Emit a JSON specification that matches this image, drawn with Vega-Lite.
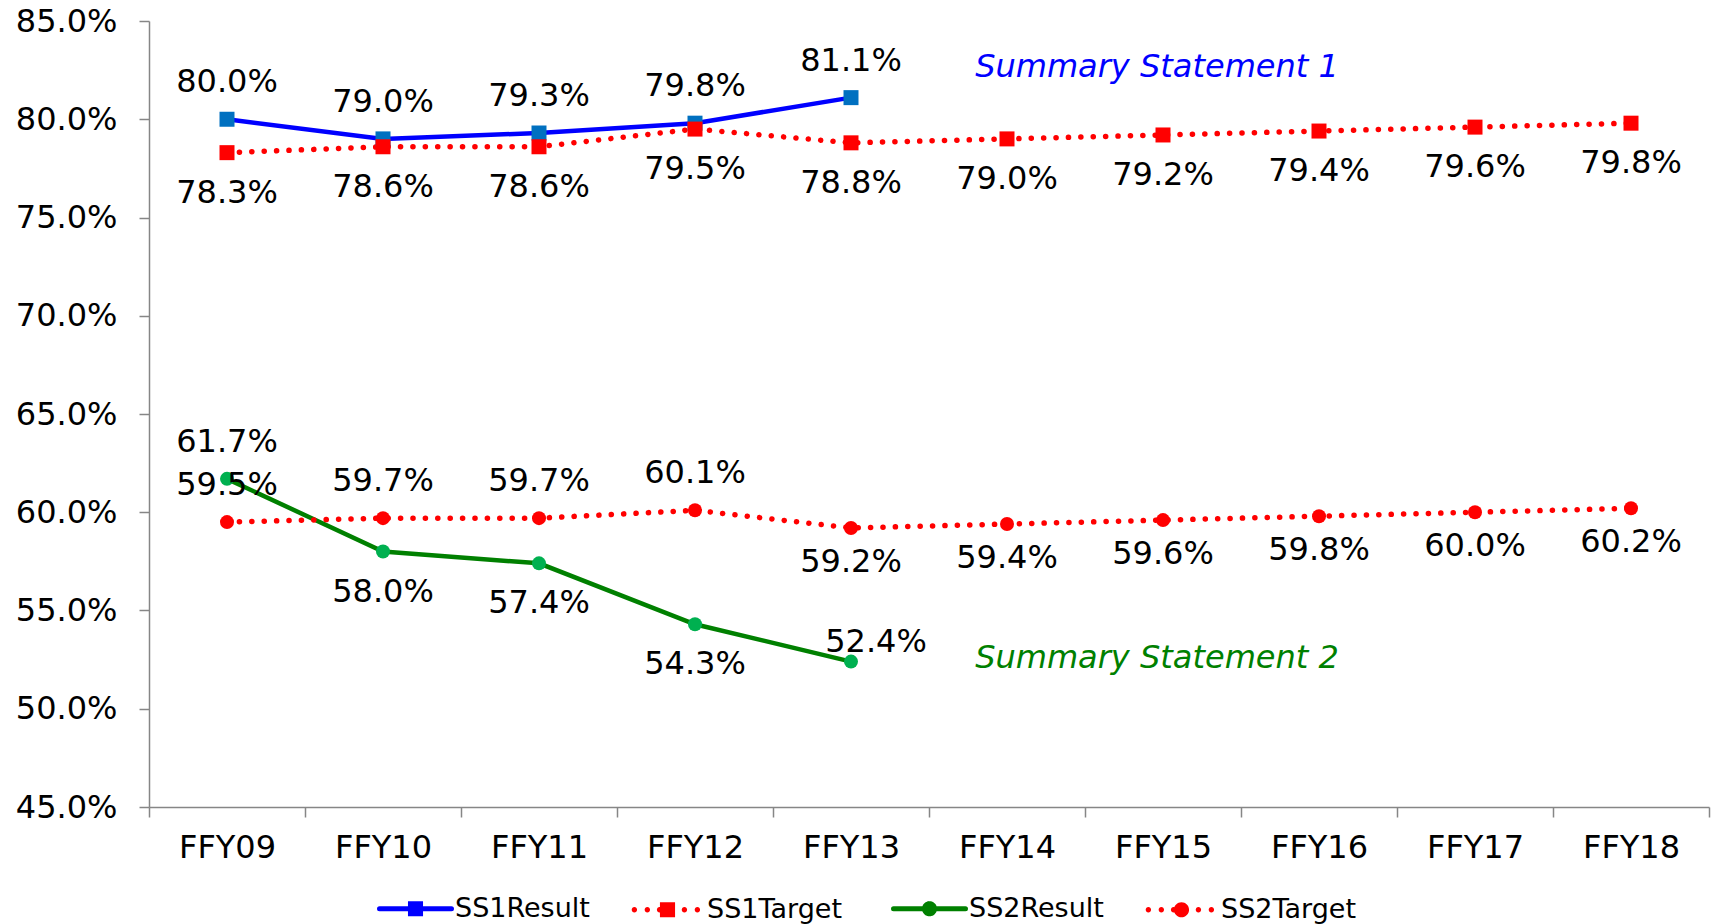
{
  "$schema": "https://vega.github.io/schema/vega-lite/v6.json",
  "width": 1560,
  "height": 786,
  "autosize": {"type": "none"},
  "padding": {"left": 149, "top": 21, "right": 5, "bottom": 117},
  "background": "white",
  "config": {"view": {"stroke": null}},
  "datasets": {
    "series": [
      {"year": "FFY09", "series": "SS1Result", "value": 0.800},
      {"year": "FFY10", "series": "SS1Result", "value": 0.790},
      {"year": "FFY11", "series": "SS1Result", "value": 0.793},
      {"year": "FFY12", "series": "SS1Result", "value": 0.798},
      {"year": "FFY13", "series": "SS1Result", "value": 0.811},
      {"year": "FFY09", "series": "SS2Result", "value": 0.617},
      {"year": "FFY10", "series": "SS2Result", "value": 0.580},
      {"year": "FFY11", "series": "SS2Result", "value": 0.574},
      {"year": "FFY12", "series": "SS2Result", "value": 0.543},
      {"year": "FFY13", "series": "SS2Result", "value": 0.524},
      {"year": "FFY09", "series": "SS1Target", "value": 0.783},
      {"year": "FFY10", "series": "SS1Target", "value": 0.786},
      {"year": "FFY11", "series": "SS1Target", "value": 0.786},
      {"year": "FFY12", "series": "SS1Target", "value": 0.795},
      {"year": "FFY13", "series": "SS1Target", "value": 0.788},
      {"year": "FFY14", "series": "SS1Target", "value": 0.790},
      {"year": "FFY15", "series": "SS1Target", "value": 0.792},
      {"year": "FFY16", "series": "SS1Target", "value": 0.794},
      {"year": "FFY17", "series": "SS1Target", "value": 0.796},
      {"year": "FFY18", "series": "SS1Target", "value": 0.798},
      {"year": "FFY09", "series": "SS2Target", "value": 0.595},
      {"year": "FFY10", "series": "SS2Target", "value": 0.597},
      {"year": "FFY11", "series": "SS2Target", "value": 0.597},
      {"year": "FFY12", "series": "SS2Target", "value": 0.601},
      {"year": "FFY13", "series": "SS2Target", "value": 0.592},
      {"year": "FFY14", "series": "SS2Target", "value": 0.594},
      {"year": "FFY15", "series": "SS2Target", "value": 0.596},
      {"year": "FFY16", "series": "SS2Target", "value": 0.598},
      {"year": "FFY17", "series": "SS2Target", "value": 0.600},
      {"year": "FFY18", "series": "SS2Target", "value": 0.602}
    ],
    "notes": [
      {"year": "FFY15", "value": 0.8267, "label": "Summary Statement 1", "group": "SS1"},
      {"year": "FFY15", "value": 0.5258, "label": "Summary Statement 2", "group": "SS2"}
    ]
  },
  "data": {"name": "series"},
  "encoding": {
    "x": {
      "field": "year",
      "type": "nominal",
      "bandPosition": 0.5,
      "scale": {
        "type": "band",
        "paddingInner": 0,
        "paddingOuter": 0,
        "domain": ["FFY09", "FFY10", "FFY11", "FFY12", "FFY13", "FFY14", "FFY15", "FFY16", "FFY17", "FFY18"]
      },
      "axis": {
        "title": null,
        "labelAngle": 0,
        "tickBand": "extent",
        "tickSize": 10,
        "labelPadding": 15,
        "labelFont": "DejaVu Sans",
        "labelFontSize": 32,
        "labelColor": "black",
        "domainColor": "#868686",
        "tickColor": "#868686",
        "domainWidth": 1.5,
        "tickWidth": 1.5,
        "grid": false
      }
    },
    "y": {
      "field": "value",
      "type": "quantitative",
      "scale": {"domain": [0.45, 0.85], "nice": false, "zero": false},
      "axis": {
        "title": null,
        "values": [0.45, 0.5, 0.55, 0.6, 0.65, 0.7, 0.75, 0.8, 0.85],
        "format": ".1%",
        "tickSize": 10,
        "labelPadding": 22,
        "labelFont": "DejaVu Sans",
        "labelFontSize": 32,
        "labelColor": "black",
        "domainColor": "#868686",
        "tickColor": "#868686",
        "domainWidth": 1.5,
        "tickWidth": 1.5,
        "grid": false
      }
    }
  },
  "layer": [
    {
      "transform": [{"filter": "datum.series === 'SS1Result' || datum.series === 'SS2Result'"}],
      "mark": {"type": "line", "strokeWidth": 4.5, "strokeCap": "round"},
      "encoding": {
        "stroke": {
          "field": "series",
          "type": "nominal",
          "scale": {
            "domain": ["SS1Result", "SS1Target", "SS2Result", "SS2Target"],
            "range": ["#0000FF", "#FF0000", "#008000", "#FF0000"]
          },
          "legend": {
            "orient": "none",
            "legendX": 253,
            "legendY": 874,
            "direction": "horizontal",
            "columns": 4,
            "title": null,
            "padding": 0,
            "symbolSize": 5184,
            "symbolType": "M-1,0H1",
            "symbolStrokeWidth": 5,
            "symbolOffset": 0,
            "labelOffset": 26,
            "columnPadding": 41,
            "labelFont": "DejaVu Sans",
            "labelFontSize": 27,
            "labelColor": "black",
            "labelLimit": 400,
            "encode": {
              "symbols": {
                "update": {
                  "shape": {"signal": "datum.value === 'SS1Result' ? 'M-1,0H1M-0.14,-0.14H0.14V0.14H-0.14Z' : datum.value === 'SS2Result' ? 'M-1,0H1M0.14,0A0.14,0.14,0,1,1,-0.14,0A0.14,0.14,0,1,1,0.14,0Z' : datum.value === 'SS1Target' ? 'M-0.845,0A0.075,0.075,0,1,1,-0.995,0A0.075,0.075,0,1,1,-0.845,0ZM-0.485,0A0.075,0.075,0,1,1,-0.635,0A0.075,0.075,0,1,1,-0.485,0ZM-0.145,0A0.075,0.075,0,1,1,-0.295,0A0.075,0.075,0,1,1,-0.145,0ZM0.545,0A0.075,0.075,0,1,1,0.395,0A0.075,0.075,0,1,1,0.545,0ZM0.905,0A0.075,0.075,0,1,1,0.755,0A0.075,0.075,0,1,1,0.905,0ZM-0.21,-0.21H0.21V0.21H-0.21Z' : 'M-0.845,0A0.075,0.075,0,1,1,-0.995,0A0.075,0.075,0,1,1,-0.845,0ZM-0.485,0A0.075,0.075,0,1,1,-0.635,0A0.075,0.075,0,1,1,-0.485,0ZM-0.145,0A0.075,0.075,0,1,1,-0.295,0A0.075,0.075,0,1,1,-0.145,0ZM0.545,0A0.075,0.075,0,1,1,0.395,0A0.075,0.075,0,1,1,0.545,0ZM0.905,0A0.075,0.075,0,1,1,0.755,0A0.075,0.075,0,1,1,0.905,0ZM0.21,0A0.21,0.21,0,1,1,-0.21,0A0.21,0.21,0,1,1,0.21,0Z'"},
                  "fill": {"signal": "datum.value === 'SS1Result' ? '#0070C0' : datum.value === 'SS2Result' ? '#00B050' : '#FF0000'"},
                  "stroke": {"signal": "datum.value === 'SS1Result' ? '#0000FF' : datum.value === 'SS2Result' ? '#008000' : '#FF0000'"},
                  "strokeDash": {"value": [1, 0]},
                  "strokeCap": {"value": "round"},
                  "strokeWidth": {"signal": "(datum.value === 'SS1Target' || datum.value === 'SS2Target') ? 0 : 5"},
                  "opacity": {"value": 1},
                  "fillOpacity": {"value": 1}
                }
              }
            }
          }
        }
      }
    },
    {
      "transform": [{"filter": "datum.series === 'SS1Target' || datum.series === 'SS2Target'"}],
      "mark": {"type": "line", "strokeWidth": 5.5, "strokeCap": "round", "strokeDash": [0.1, 12.3]},
      "encoding": {
        "stroke": {"field": "series", "type": "nominal"}
      }
    },
    {
      "transform": [{"filter": "datum.series === 'SS1Result'"}],
      "mark": {"type": "point", "shape": "square", "filled": true, "opacity": 1, "size": 225, "strokeWidth": 0, "color": "#0070C0"}
    },
    {
      "transform": [{"filter": "datum.series === 'SS2Result'"}],
      "mark": {"type": "point", "shape": "circle", "filled": true, "opacity": 1, "size": 196, "strokeWidth": 0, "color": "#00B050"}
    },
    {
      "transform": [{"filter": "datum.series === 'SS1Target'"}],
      "mark": {"type": "point", "shape": "square", "filled": true, "opacity": 1, "size": 225, "strokeWidth": 0, "color": "#FF0000"}
    },
    {
      "transform": [{"filter": "datum.series === 'SS2Target'"}],
      "mark": {"type": "point", "shape": "circle", "filled": true, "opacity": 1, "size": 196, "strokeWidth": 0, "color": "#FF0000"}
    },
    {
      "transform": [{"filter": "datum.series === 'SS1Result' || (datum.series === 'SS2Result' && datum.year === 'FFY09') || (datum.series === 'SS2Target' && indexof(['FFY09','FFY10','FFY11','FFY12'], datum.year) >= 0)"}],
      "mark": {"type": "text", "font": "DejaVu Sans", "fontSize": 32, "color": "black", "baseline": "middle", "align": "center", "dy": -37},
      "encoding": {"text": {"field": "value", "type": "quantitative", "format": ".1%"}}
    },
    {
      "transform": [{"filter": "datum.series === 'SS1Target' || (datum.series === 'SS2Result' && indexof(['FFY10','FFY11','FFY12'], datum.year) >= 0)"}],
      "mark": {"type": "text", "font": "DejaVu Sans", "fontSize": 32, "color": "black", "baseline": "middle", "align": "center", "dy": 40},
      "encoding": {"text": {"field": "value", "type": "quantitative", "format": ".1%"}}
    },
    {
      "transform": [{"filter": "datum.series === 'SS2Target' && indexof(['FFY13','FFY14','FFY15','FFY16','FFY17','FFY18'], datum.year) >= 0"}],
      "mark": {"type": "text", "font": "DejaVu Sans", "fontSize": 32, "color": "black", "baseline": "middle", "align": "center", "dy": 34},
      "encoding": {"text": {"field": "value", "type": "quantitative", "format": ".1%"}}
    },
    {
      "transform": [{"filter": "datum.series === 'SS2Result' && datum.year === 'FFY13'"}],
      "mark": {"type": "text", "font": "DejaVu Sans", "fontSize": 32, "color": "black", "baseline": "middle", "align": "center", "dx": 25, "dy": -20},
      "encoding": {"text": {"field": "value", "type": "quantitative", "format": ".1%"}}
    },
    {
      "data": {"name": "notes"},
      "mark": {"type": "text", "font": "DejaVu Sans", "fontSize": 32, "fontStyle": "italic", "baseline": "middle", "align": "center", "dx": -6},
      "encoding": {
        "text": {"field": "label", "type": "nominal"},
        "color": {
          "field": "group",
          "type": "nominal",
          "scale": {"domain": ["SS1", "SS2"], "range": ["#0000FF", "#008000"]},
          "legend": null
        }
      }
    }
  ]
}
